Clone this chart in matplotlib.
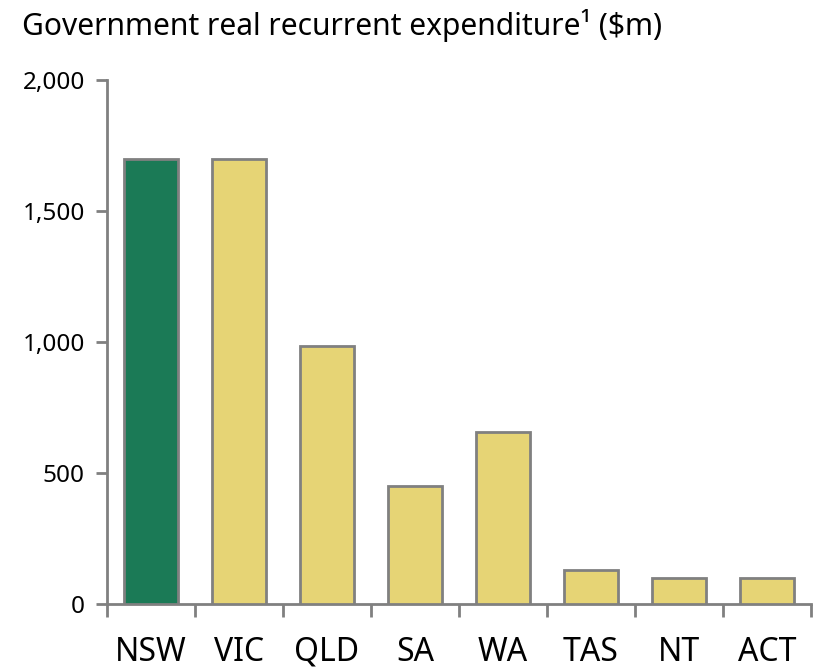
import matplotlib
matplotlib.use("Agg")
import matplotlib.pyplot as plt
from matplotlib.ticker import FuncFormatter, FixedLocator

categories = ["NSW", "VIC", "QLD", "SA", "WA", "TAS", "NT", "ACT"]
values = [1700, 1700, 985, 450, 655, 130, 100, 100]
highlight = "NSW"

plt.rcParams['font.family'] = ['Noto Sans', 'DejaVu Sans']

fig = plt.figure(figsize=(8.19, 6.7), dpi=100)
ax = fig.add_axes([107/819, 1-604/670, 704/819, 524/670])

green = "#1b7a56"
yellow = "#e6d475"
colors = [green if c == highlight else yellow for c in categories]
x = list(range(len(categories)))
ax.bar(x, values, width=0.62, color=colors, edgecolor="#808080", linewidth=2, zorder=3)

ax.set_xlim(-0.5, len(categories) - 0.5)
ax.set_ylim(0, 2000)
ax.set_yticks([0, 500, 1000, 1500, 2000])
ax.yaxis.set_major_formatter(FuncFormatter(lambda v, p: f"{int(v):,}"))
ax.set_xticks(x)
ax.set_xticklabels(categories, fontsize=23)
ax.tick_params(axis='x', which='major', length=0, pad=23)
ax.xaxis.set_minor_locator(FixedLocator([i - 0.5 for i in range(len(categories) + 1)]))
ax.tick_params(axis='x', which='minor', length=9, width=2, color="#808080")
ax.tick_params(axis='y', length=8, width=2, color="#808080", labelsize=17.5, pad=8)

for s in ['top', 'right']:
    ax.spines[s].set_visible(False)
for s in ['left', 'bottom']:
    ax.spines[s].set_color("#808080")
    ax.spines[s].set_linewidth(2)

fig.text(22/819, 1-25/670, "Government real recurrent expenditure¹ ($m)", fontsize=21.6,
         va='center', ha='left')

fig.savefig("out.png", dpi=100)
